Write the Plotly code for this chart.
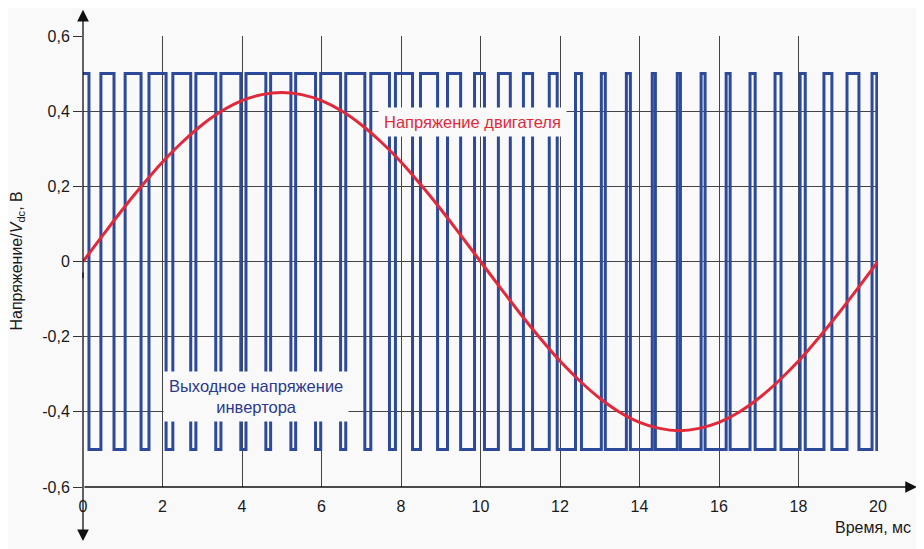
import plotly.graph_objects as go

# switching instants of the inverter output (ms), level starts at +0.5
pwm_edges_ms = [0.15, 0.45, 0.78, 1.06, 1.46, 1.66, 2.09, 2.26, 2.71, 2.84,
                3.34, 3.47, 3.97, 4.10, 4.60, 4.72, 5.23, 5.35, 5.85, 5.98,
                6.48, 6.61, 7.09, 7.24, 7.71, 7.86, 8.29, 8.49, 8.92, 9.17,
                9.50, 9.85, 10.10, 10.45, 10.75, 11.08, 11.31, 11.73, 11.93, 12.39,
                12.54, 13.04, 13.14, 13.67, 13.77, 14.32, 14.40, 14.95, 15.03, 15.55,
                15.65, 16.18, 16.28, 16.78, 16.91, 17.41, 17.56, 18.04, 18.17, 18.64,
                18.84, 19.22, 19.52, 19.85, 19.97]
pwm_levels = [0.5, -0.5]

# motor voltage, read every 0.5 ms
motor_t = [i * 0.5 for i in range(41)]
motor_v = [0.0, 0.070, 0.139, 0.204, 0.265, 0.318, 0.364, 0.401, 0.428, 0.444,
           0.450, 0.444, 0.428, 0.401, 0.364, 0.318, 0.265, 0.204, 0.139, 0.070,
           0.0, -0.070, -0.139, -0.204, -0.265, -0.318, -0.364, -0.401, -0.428, -0.444,
           -0.450, -0.444, -0.428, -0.401, -0.364, -0.318, -0.265, -0.204, -0.139, -0.070,
           0.0]

x_ticks = [0, 2, 4, 6, 8, 10, 12, 14, 16, 18, 20]
y_ticks = [-0.6, -0.4, -0.2, 0, 0.2, 0.4, 0.6]
y_tick_text = ['-0,6', '-0,4', '-0,2', '0', '0,2', '0,4', '0,6']

pwm_x = [0.0] + pwm_edges_ms + [20.0]
pwm_y = [pwm_levels[i % 2] for i in range(len(pwm_edges_ms) + 1)]
pwm_y.append(pwm_y[-1])

BLUE = '#2d4a9a'
RED = '#e2293a'
BG = '#f9f9fa'
FONT = 'Liberation Sans, Arial, sans-serif'

fig = go.Figure()
fig.add_trace(go.Scatter(x=pwm_x, y=pwm_y, mode='lines', line_shape='hv',
                         line=dict(color=BLUE, width=3), hoverinfo='skip'))
fig.add_trace(go.Scatter(x=motor_t, y=motor_v, mode='lines', line_shape='spline',
                         line=dict(color=RED, width=3), hoverinfo='skip'))

# page body has an 8px margin, so the figure is a bit smaller and shifted
fig.update_layout(
    width=916, height=541,
    margin=dict(l=75, r=46, t=28, b=62),
    paper_bgcolor=BG, plot_bgcolor=BG,
    showlegend=False,
    font=dict(family=FONT, size=16, color='#1a1a1a'),
)
fig.update_xaxes(range=[0, 20], tickvals=x_ticks, showgrid=True,
                 gridcolor='#444444', gridwidth=1, zeroline=False,
                 showline=False, ticks='', ticklabelstandoff=8)
fig.update_yaxes(range=[-0.6, 0.6], tickvals=y_ticks, ticktext=y_tick_text,
                 showgrid=True, gridcolor='#444444', gridwidth=1, zeroline=False,
                 showline=False, ticks='outside', ticklen=9, tickcolor='#333333')

# axes with arrowheads
arrow = dict(xref='paper', yref='paper', text='', showarrow=True,
             arrowhead=2, arrowsize=1.8, arrowwidth=1.3, arrowcolor='#111111')
fig.add_annotation(x=0, y=1.058, ax=0, ay=270, **arrow)
fig.add_annotation(x=0, y=-0.12, ax=0, ay=-270, **arrow)
fig.add_annotation(x=1.049, y=0, ax=-834, ay=0, **arrow)

fig.add_annotation(x=9.79, y=0.371, text='Напряжение двигателя', showarrow=False,
                   font=dict(color=RED, size=16.5), bgcolor=BG, borderpad=5)
fig.add_annotation(x=4.35, y=-0.359, text='Выходное напряжение<br>инвертора',
                   showarrow=False, font=dict(color='#2b3a8c', size=16.5),
                   bgcolor=BG, borderpad=5)
fig.add_annotation(x=1.044, y=-0.089, xref='paper', yref='paper',
                   text='Время, мс', showarrow=False, xanchor='right',
                   yanchor='middle', font=dict(size=16))
fig.add_annotation(x=-0.083, y=0.5, xref='paper', yref='paper', textangle=-90,
                   xanchor='center', yanchor='middle',
                   text='Напряжение/<i>V</i><sub>dc</sub>, В', showarrow=False,
                   font=dict(size=16))

fig.write_html('out.html')
